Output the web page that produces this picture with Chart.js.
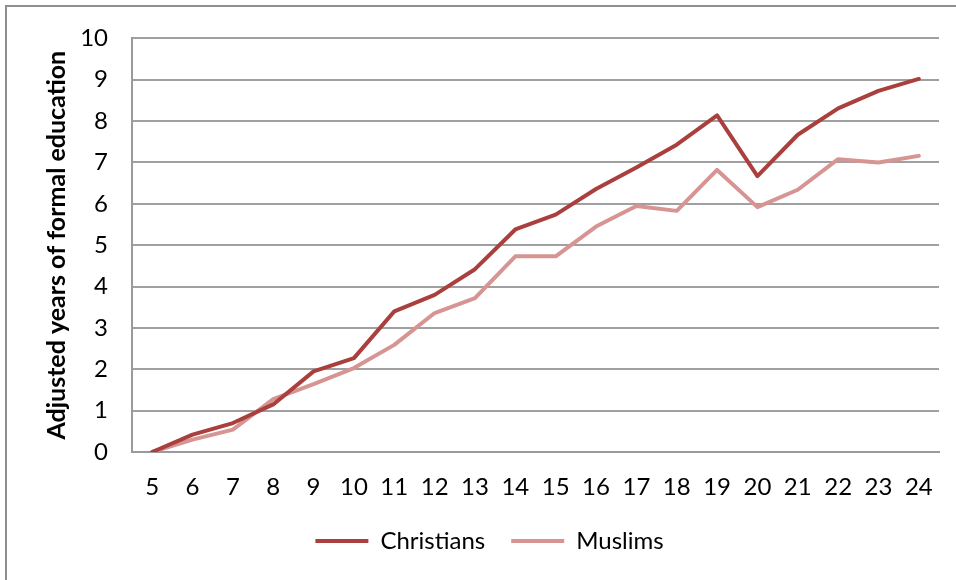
<!DOCTYPE html>
<html>
<head>
<meta charset="utf-8">
<script src="https://cdn.jsdelivr.net/npm/chart.js@4.4.0/dist/chart.umd.min.js"></script>
<style>
  html, body { margin: 0; padding: 0; background: #fff; }
  #wrap { position: relative; width: 956px; height: 580px; }
  #frame { position: absolute; left: 5px; top: 5px; right: 0; bottom: 0;
           border-top: 2px solid #8e8e8e; border-left: 2px solid #8e8e8e; pointer-events: none; }
  canvas { position: absolute; left: 0; top: 0; }
</style>
</head>
<body>
<div id="wrap">
  <canvas id="c" width="956" height="580"></canvas>
  <div id="frame"></div>
</div>
<script>
const categories = ['5','6','7','8','9','10','11','12','13','14','15','16','17','18','19','20','21','22','23','24'];
const christians = [0, 0.42, 0.70, 1.15, 1.95, 2.27, 3.40, 3.80, 4.42, 5.38, 5.74, 6.36, 6.88, 7.43, 8.14, 6.67, 7.67, 8.31, 8.73, 9.02];
const muslims    = [0, 0.30, 0.54, 1.28, 1.64, 2.03, 2.59, 3.36, 3.72, 4.73, 4.73, 5.45, 5.95, 5.83, 6.82, 5.92, 6.34, 7.08, 7.00, 7.16];
const yMin = 0, yMax = 10, yStep = 1;
const yTitle = 'Adjusted years of formal education';
const seriesNames = ['Christians', 'Muslims'];

const FONT = "Lato, 'Open Sans', sans-serif";

new Chart(document.getElementById('c'), {
  type: 'line',
  data: {
    labels: categories,
    datasets: [
      { label: seriesNames[0], data: christians, borderColor: '#aa403e', backgroundColor: '#aa403e',
        borderWidth: 4, pointRadius: 0, tension: 0, borderCapStyle: 'round', borderJoinStyle: 'round' },
      { label: seriesNames[1], data: muslims, borderColor: '#d69493', backgroundColor: '#d69493',
        borderWidth: 4, pointRadius: 0, tension: 0, borderCapStyle: 'round', borderJoinStyle: 'round' }
    ]
  },
  options: {
    responsive: false,
    animation: false,
    layout: { padding: { left: 40, right: 17, top: 34, bottom: 17 } },
    plugins: {
      tooltip: { enabled: false },
      legend: {
        position: 'bottom',
        labels: {
          font: { family: FONT, size: 24 },
          color: '#000',
          usePointStyle: true,
          pointStyle: 'line',
          pointStyleWidth: 53,
          boxHeight: 4,
          padding: 26
        }
      }
    },
    scales: {
      x: {
        type: 'category',
        offset: true,
        grid: { display: false, drawTicks: false },
        border: { display: true, color: '#9a9a9a', width: 2 },
        ticks: { font: { family: FONT, size: 24 }, color: '#000', padding: 21, maxRotation: 0, autoSkip: false },
        afterFit: (s) => { s.height = 51; }
      },
      y: {
        min: yMin, max: yMax,
        grid: { color: '#a0a0a0', lineWidth: 2, drawTicks: false },
        border: { display: true, color: '#9a9a9a', width: 2 },
        ticks: { stepSize: yStep, font: { family: FONT, size: 24 }, color: '#000', padding: 24 },
        title: { display: true, text: yTitle, font: { family: FONT, size: 25, weight: 'bold' }, color: '#000', padding: { top: 2, bottom: 0 } },
        afterFit: (s) => { s.width = 92; }
      }
    }
  }
});
</script>
</body>
</html>
